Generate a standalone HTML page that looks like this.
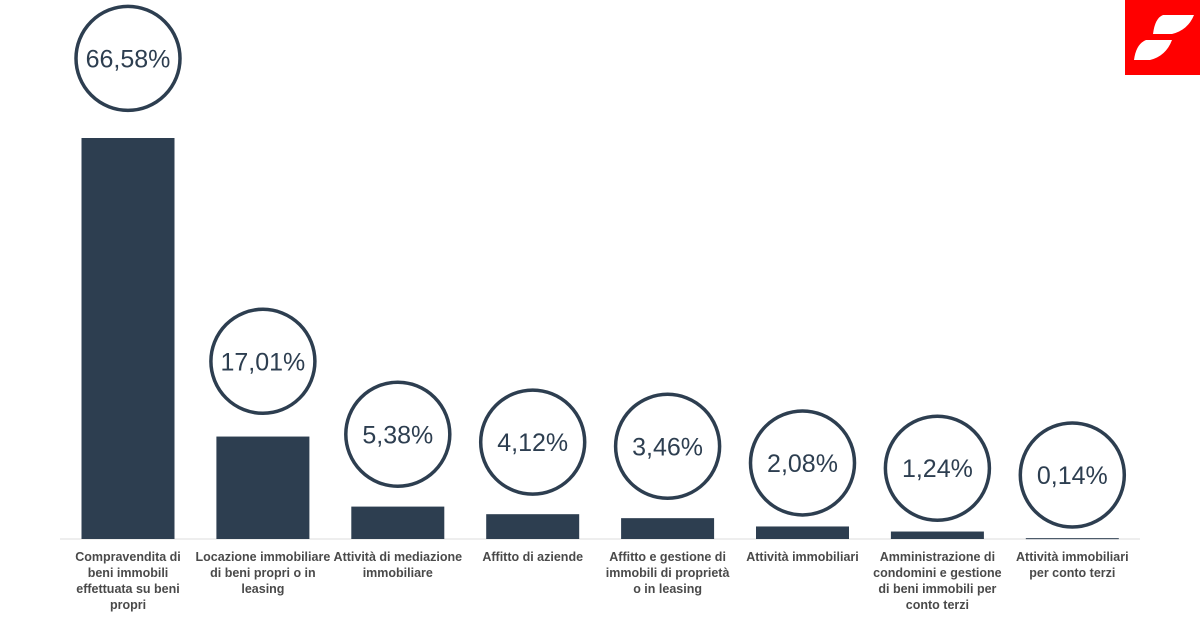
<!DOCTYPE html>
<html><head><meta charset="utf-8"><style>
body{margin:0;background:#fff;width:1200px;height:628px;overflow:hidden;font-family:"Liberation Sans",sans-serif}
</style></head><body>
<svg width="1200" height="628">
<g>
<rect x="1125" y="0" width="75" height="75" fill="#ff0000"/>
<path d="M1163 15 L1194 15 Q1188 30 1172 34 L1153 34 Q1155 18 1163 15 Z" fill="#fff"/>
<path d="M1146 40 L1172 40 Q1166 56 1150 60 L1134 60 Q1136 44 1146 40 Z" fill="#fff"/>
</g>
<line x1="60" y1="539" x2="1140" y2="539" stroke="#dddddd" stroke-width="1"/>
<g id="marks"></g>
</svg>
<script>
const categories=[["Compravendita di","beni immobili","effettuata su beni","propri"],["Locazione immobiliare","di beni propri o in","leasing"],["Attività di mediazione","immobiliare"],["Affitto di aziende"],["Affitto e gestione di","immobili di proprietà","o in leasing"],["Attività immobiliari"],["Amministrazione di","condomini e gestione","di beni immobili per","conto terzi"],["Attività immobiliari","per conto terzi"]];
const values=[66.58,17.01,5.38,4.12,3.46,2.08,1.24,0.14];
const valueLabels=["66,58%","17,01%","5,38%","4,12%","3,46%","2,08%","1,24%","0,14%"];
const NS="http://www.w3.org/2000/svg";
const g=document.getElementById('marks');
const base=539,scale=401/66.58,x0=128,step=134.9,bw=93;
const xs=i=>x0+i*step, ys=v=>base-v*scale;
function mk(t,a){const e=document.createElementNS(NS,t);for(const k in a)e.setAttribute(k,a[k]);g.appendChild(e);return e;}
values.forEach((v,i)=>{
 const cx=xs(i),top=ys(v);
 const b=mk('rect',{x:cx-bw/2,y:top,width:bw,height:Math.max(base-top,1),fill:'#2d3e50'});
 
 
 const cy=Math.min(top-63-v*0.25,475)-(v>10&&v<20?8:0)-(v>3&&v<6?8:0);
 const c=mk('circle',{cx:cx,cy:cy,r:52,fill:'#fff',stroke:'#2d3e50','stroke-width':3.5});
 
 
 const t=mk('text',{x:cx,y:cy+9,'text-anchor':'middle','font-size':25,fill:'#2d3e50'});
 t.textContent=valueLabels[i];
 
 
 categories[i].forEach((line,j)=>{
  const l=mk('text',{x:cx,y:561+j*16,'text-anchor':'middle','font-size':12.5,'font-weight':'bold',fill:'#4a4a4a'});
  l.textContent=line;
  
  
 });
});
</script>
</body></html>
